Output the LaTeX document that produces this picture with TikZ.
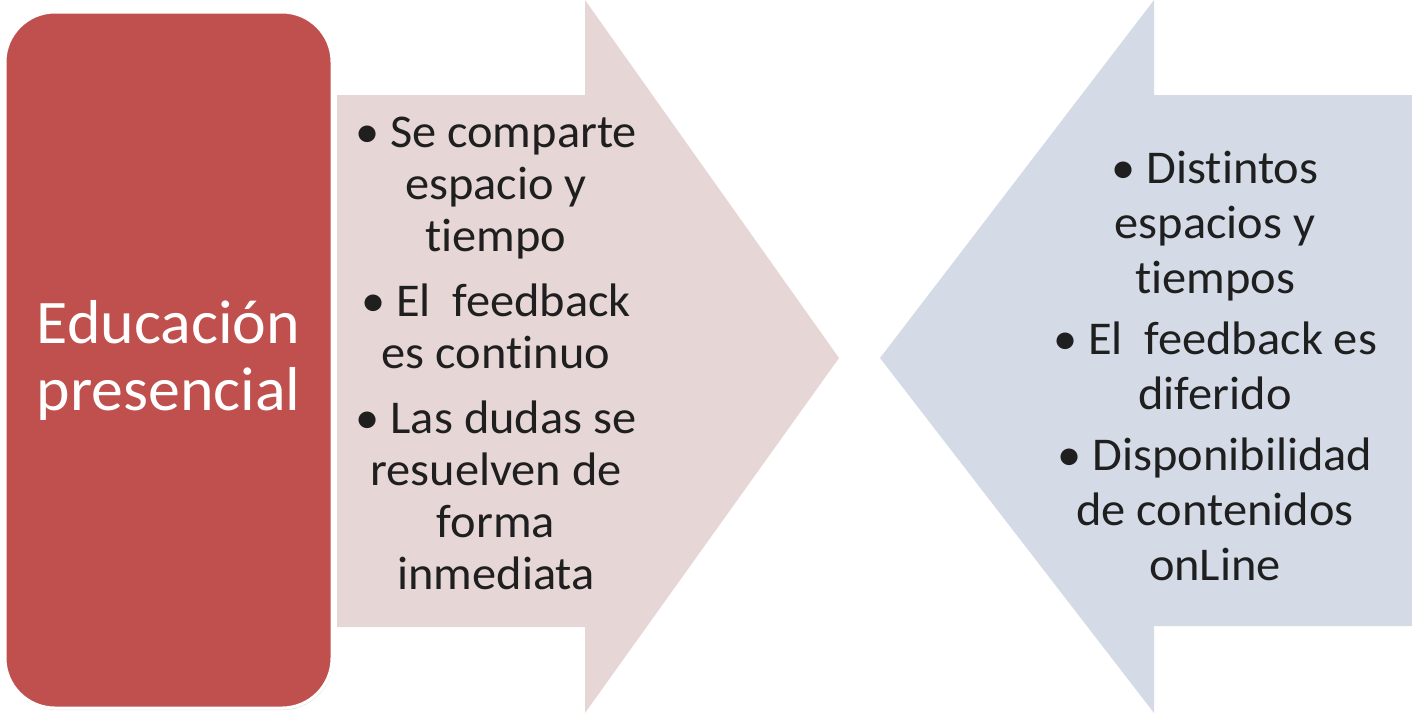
\documentclass[tikz,border=0pt]{standalone}
\usepackage{fontspec}
\setmainfont{Carlito}[Ligatures=NoCommon, FakeStretch=1.03]
\usetikzlibrary{positioning,shadows}
\definecolor{rojo}{HTML}{C0504D}
\definecolor{rosa}{HTML}{E7D6D6}
\definecolor{azul}{HTML}{D4DBE7}
\tikzset{
  basic/.style  = {align=center, inner sep=0pt},
  titulo/.style = {basic, draw=white, line width=1.5pt, fill=rojo,
                   rounded corners=25pt, text=white,
                   font=\fontsize{31}{33.5}\selectfont,
                   minimum width=163.5pt, minimum height=348pt,
                   drop shadow={opacity=0.2, shadow xshift=0.5pt, shadow yshift=-1pt}},
  lista/.style  = {basic, text=black!88, font=\fontsize{23.5}{26}\selectfont},
  flecha/.style = {draw=none}
}

\begin{document}
\begin{tikzpicture}[x=0.5pt, y=-0.5pt]
	\useasboundingbox (0,0) rectangle (1412,713);
	
	% the two big arrows, drawn first
	\fill[flecha, rosa] (337,95) -- (585,95) -- (585,0) -- (839,358)
	  -- (585,713) -- (585,627) -- (337,627) -- cycle;
	\fill[flecha, azul] (1412,95) -- (1154,95) -- (1154,0) -- (880,358)
	  -- (1154,713) -- (1154,626) -- (1412,626) -- cycle;
	
	% title box on the left
	\node[titulo] (educacion) at (168.5,360) {Educación\\presencial};
	
	% the bullet lists, one in each arrow
	\node[lista] (presencial) at (496,353)
	{• Se comparte\\espacio y\\tiempo\\[6.5pt]
	 • El~~feedback\\es continuo\\[6.5pt]
	 • Las dudas se\\resuelven de\\forma\\inmediata};
	
	\node[lista, font=\fontsize{23.5}{27.5}\selectfont] (distancia) at (1215,366)
	{• Distintos\\espacios y\\tiempos\\[3pt]
	 • El~~feedback es\\diferido\\[3pt]
	 • Disponibilidad\\de contenidos\\onLine};
	
\end{tikzpicture}
\end{document}
